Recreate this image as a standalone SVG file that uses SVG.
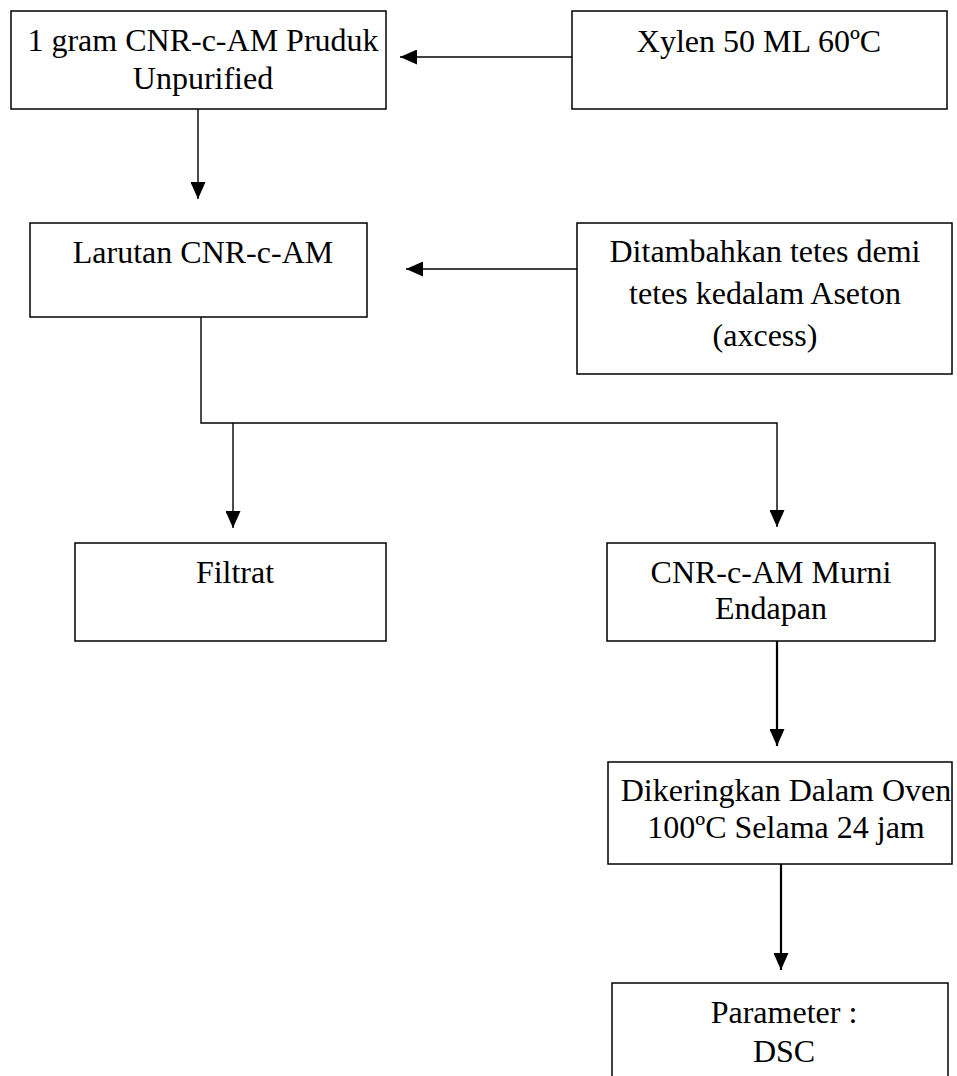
<svg xmlns="http://www.w3.org/2000/svg" width="957" height="1076" viewBox="0 0 957 1076">
<style>
.box{fill:#fff;stroke:#000;stroke-width:1.5}
.t{font-family:"Liberation Serif","Times New Roman",serif;font-size:32px;fill:#000;text-anchor:middle}
.c{fill:none;stroke:#000;stroke-width:1.4}
.c2{fill:none;stroke:#000;stroke-width:2.2}
</style>
<defs>
<marker id="ah" markerUnits="userSpaceOnUse" markerWidth="17" markerHeight="15" refX="17" refY="7.5" orient="auto">
<path d="M0,0 L17,7.5 L0,15 z" fill="#000"/>
</marker>
</defs>
<rect width="957" height="1076" fill="#fff"/>
<g id="connectors">
<line class="c" x1="572" y1="57" x2="400" y2="57" marker-end="url(#ah)"/>
<line class="c" x1="198" y1="109" x2="198" y2="199" marker-end="url(#ah)"/>
<line class="c" x1="577" y1="269" x2="406" y2="269" marker-end="url(#ah)"/>
<polyline class="c" points="201,317 201,423 777,423 777,527" marker-end="url(#ah)"/>
<line class="c" x1="233" y1="423" x2="233" y2="528" marker-end="url(#ah)"/>
<line class="c2" x1="777" y1="641" x2="777" y2="746" marker-end="url(#ah)"/>
<line class="c2" x1="781" y1="864" x2="781" y2="970" marker-end="url(#ah)"/>
</g>
<g id="n1">
<rect class="box" x="11" y="11" width="375" height="98"/>
<text class="t" x="203" y="51">1 gram CNR-c-AM Pruduk</text>
<text class="t" x="203" y="89">Unpurified</text>
</g>
<g id="n2">
<rect class="box" x="572" y="11" width="375" height="98"/>
<text class="t" x="759" y="52">Xylen 50 ML 60ºC</text>
</g>
<g id="n3">
<rect class="box" x="30" y="223" width="337" height="94"/>
<text class="t" x="203" y="263">Larutan CNR-c-AM</text>
</g>
<g id="n4">
<rect class="box" x="577" y="223" width="375" height="151"/>
<text class="t" x="765" y="262">Ditambahkan tetes demi</text>
<text class="t" x="765" y="304">tetes kedalam Aseton</text>
<text class="t" x="765" y="346">(axcess)</text>
</g>
<g id="n5">
<rect class="box" x="75" y="543" width="311" height="98"/>
<text class="t" x="235" y="583">Filtrat</text>
</g>
<g id="n6">
<rect class="box" x="607" y="543" width="328" height="98"/>
<text class="t" x="771" y="583">CNR-c-AM Murni</text>
<text class="t" x="771" y="619">Endapan</text>
</g>
<g id="n7">
<rect class="box" x="608" y="762" width="344" height="102"/>
<text class="t" x="786" y="801">Dikeringkan Dalam Oven</text>
<text class="t" x="786" y="838">100ºC Selama 24 jam</text>
</g>
<g id="n8">
<rect class="box" x="612" y="983" width="336" height="110"/>
<text class="t" x="784" y="1023">Parameter :</text>
<text class="t" x="784" y="1062">DSC</text>
</g>
</svg>
